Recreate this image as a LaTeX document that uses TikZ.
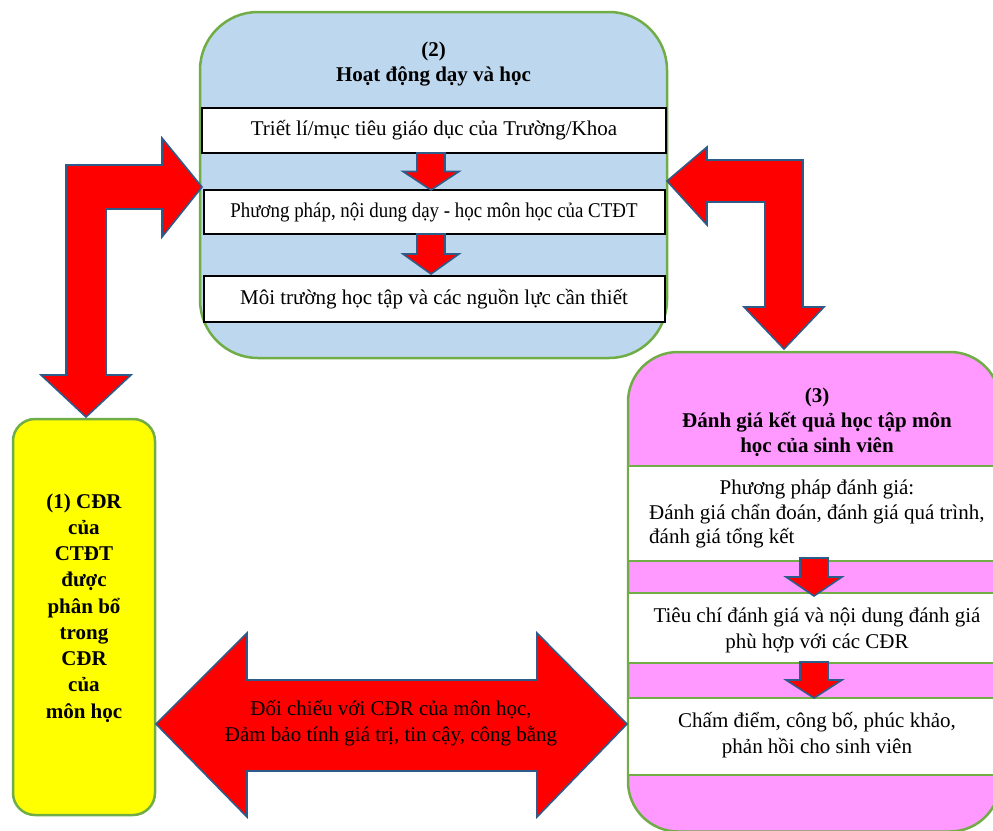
\documentclass[tikz,border=0pt]{standalone}
\usepackage{fontspec}
\setmainfont{Liberation Serif}
\usetikzlibrary{calc}
\definecolor{panelblue}{HTML}{BDD7EE}
\definecolor{panelgreen}{HTML}{70AD47}
\definecolor{panelpink}{HTML}{FF99FF}
\definecolor{panelyellow}{HTML}{FFFF00}
\definecolor{arrowedge}{HTML}{2E5C8A}
\newcommand\txt{\fontsize{21}{26}\selectfont}
\newcommand\downblock[3]{\draw[blockarrow] ({#1-14},#2) -- ({#1+14},#2) -- ({#1+14},{(#2+#3)/2}) -- ({#1+28},{(#2+#3)/2}) -- (#1,#3) -- ({#1-28},{(#2+#3)/2}) -- ({#1-14},{(#2+#3)/2}) -- cycle;}
\begin{document}
\begin{tikzpicture}[x=1pt,y=-1pt,
  panel/.style={draw=panelgreen,line width=2.5pt,inner sep=0pt},
  blockarrow/.style={fill=red,draw=arrowedge,line width=1.6pt,line join=miter},
  stepbox/.style={draw=black,fill=white,line width=2pt,inner sep=0pt,minimum height=45pt,font=\txt,text height=15pt,text depth=5pt},
  band/.style={draw=panelgreen,fill=white,line width=2pt,inner sep=0pt,minimum width=372pt},
  label/.style={font=\txt,inner sep=0pt,align=center},
  title/.style={font=\txt\bfseries,inner sep=0pt,align=center}]
\useasboundingbox (0,0) rectangle (993,830);
\clip (0,0) rectangle (993,830);

% panel (2)
\node[panel,fill=panelblue,rounded corners=58pt,minimum width=467pt,minimum height=346pt] (p2) at (433.5,185) {};
\node[stepbox,minimum width=464pt] (s1) at (434,130) {Triết lí/mục tiêu giáo dục của Trường/Khoa};
\node[stepbox,minimum width=461pt,minimum height=44pt] (s2) at (434,212) {\scalebox{0.9}[1]{Phương pháp, nội dung dạy - học môn học của CTĐT}};
\node[stepbox,minimum width=461pt,minimum height=46pt] (s3) at (434,299) {Môi trường học tập và các nguồn lực cần thiết};
\node[title,font=\bfseries\fontsize{21}{25}\selectfont] (t2) at (433.5,64) {(2)\\Hoạt động dạy và học};
\downblock{431}{153}{190}
\downblock{431}{234}{274}

% panel (3)
\node[panel,fill=panelpink,rounded corners=50pt,minimum width=372pt,minimum height=479.5pt] (p3) at (814,591.75) {};
\node[band,minimum height=95pt] (c1) at (814,513.5) {};
\node[band,minimum height=70pt] (c2) at (814,628) {};
\node[band,minimum height=77pt] (c3) at (814,736.5) {};
\downblock{814}{558}{596}
\downblock{814}{662}{698}
\node[title,font=\bfseries\fontsize{21}{25}\selectfont] (t3) at (817,422) {(3)\\Đánh giá kết quả học tập môn\\học của sinh viên};
\node[label,text height=15pt,text depth=5pt] (c1a) at (817,489) {Phương pháp đánh giá:};
\node[label,anchor=west,text height=15pt,text depth=5pt] (c1b) at (649,514) {Đánh giá chẩn đoán, đánh giá quá trình,};
\node[label,anchor=west,text height=15pt,text depth=5pt] (c1c) at (649,538) {đánh giá tổng kết};
\node[label] (c2t) at (817,630) {Tiêu chí đánh giá và nội dung đánh giá\\phù hợp với các CĐR};
\node[label] (c3t) at (817,735) {Chấm điểm, công bố, phúc khảo,\\phản hồi cho sinh viên};

% panel (1)
\node[panel,fill=panelyellow,rounded corners=22pt,minimum width=142pt,minimum height=396pt] (p1) at (84,617) {};
\node[title,font=\bfseries\fontsize{21}{26.25}\selectfont] (t1) at (84,608) {(1) CĐR\\của\\CTĐT\\được\\phân bổ\\trong\\CĐR\\của\\môn học};

% block arrows
\draw[blockarrow] (66,165) -- (162,165) -- (162,138) -- (202,187) -- (162,237) -- (162,209) -- (106,209) -- (106,375) -- (131,375) -- (86,417) -- (41,375) -- (66,375) -- cycle;
\draw[blockarrow] (667,181) -- (707,147) -- (707,160) -- (803,160) -- (803,307) -- (824,307) -- (784,349) -- (744,307) -- (765,307) -- (765,202) -- (707,202) -- (707,225) -- cycle;
\draw[blockarrow] (156,724) -- (247,633) -- (247,680) -- (537,680) -- (537,633) -- (627,724) -- (537,817) -- (537,771) -- (247,771) -- (247,817) -- cycle;
\node[label] (mid) at (391,723) {Đối chiếu với CĐR của môn học,\\Đảm bảo tính giá trị, tin cậy, công bằng};
\end{tikzpicture}
\end{document}
